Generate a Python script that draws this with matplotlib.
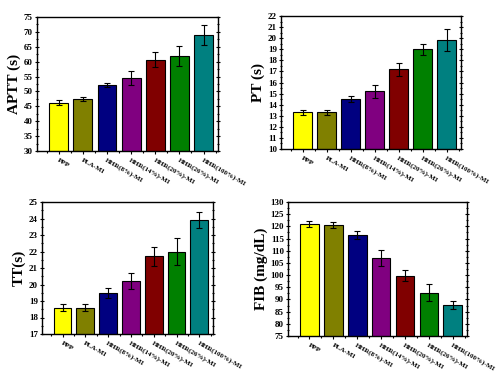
import numpy as np
import matplotlib.pyplot as plt
from matplotlib.ticker import MultipleLocator, AutoMinorLocator

plt.rcParams['font.family'] = ['Liberation Serif', 'DejaVu Serif']
plt.rcParams['font.weight'] = 'bold'

labels = ['PPP', 'PLA-MI', 'HHR(8%)-MI', 'HHR(14%)-MI', 'HHR(20%)-MI',
          'HHR(26%)-MI', 'HHR(100%)-MI']
colors = ['#ffff00', '#808000', '#000080', '#800080', '#800000', '#008000', '#008080']

aptt = [46.2, 47.5, 52.2, 54.5, 60.7, 62.0, 69.0]
aptt_err = [0.8, 0.8, 0.8, 2.5, 2.5, 3.3, 3.3]
pt = [13.3, 13.3, 14.5, 15.2, 17.2, 19.0, 19.8]
pt_err = [0.2, 0.2, 0.3, 0.6, 0.6, 0.5, 1.0]
tt = [18.6, 18.6, 19.5, 20.2, 21.7, 22.0, 23.9]
tt_err = [0.2, 0.2, 0.3, 0.5, 0.6, 0.8, 0.5]
fib = [121.0, 120.5, 116.5, 107.0, 99.7, 92.7, 87.7]
fib_err = [1.2, 1.3, 1.5, 3.2, 2.2, 3.5, 1.5]

panels = [
    # values, errors, ylabel, ylim, step, rect (left, top, width, height) in px
    (aptt, aptt_err, 'APTT (s)', (30, 75), 5, (37, 17, 181, 134)),
    (pt, pt_err, 'PT (s)', (10, 22), 1, (281, 16, 180, 133)),
    (tt, tt_err, 'TT(s)', (17, 25), 1, (42, 202, 171, 132)),
    (fib, fib_err, 'FIB (mg/dL)', (75, 130), 5, (288, 202, 179, 134)),
]

W, H = 500, 375
fig = plt.figure(figsize=(5, 3.75), dpi=100)
x = np.arange(1, len(labels) + 1)

for vals, errs, ylab, ylim, step, (l, t, w, h) in panels:
    ax = fig.add_axes([l / W, 1 - (t + h) / H, w / W, h / H])
    ax.bar(x, vals, width=0.78, color=colors, edgecolor='black', linewidth=0.8,
           yerr=errs, capsize=2, error_kw=dict(elinewidth=0.8, capthick=0.8, ecolor='black'))
    ax.set_xlim(0.1, 7.6)
    ax.set_ylim(*ylim)
    ax.yaxis.set_major_locator(MultipleLocator(step))
    ax.yaxis.set_minor_locator(AutoMinorLocator(2))
    ax.set_xticks(x)
    ax.set_xticks(np.arange(0.5, 7.6, 1.0), minor=True)
    ax.set_xticklabels(labels, rotation=-30, ha='left', rotation_mode='anchor',
                       fontsize=5, fontweight='bold')
    ax.tick_params(axis='y', labelsize=6.5, direction='inout', right=True, which='both',
                   length=3, width=0.8, pad=1.5)
    ax.tick_params(axis='y', which='minor', length=2)
    ax.tick_params(axis='x', which='both', direction='out', length=2.5, width=0.8, pad=2)
    ax.tick_params(axis='x', which='minor', length=1.5)
    for lb in ax.get_yticklabels():
        lb.set_fontweight('bold')
    ax.set_ylabel(ylab, fontsize=11, fontweight='bold', labelpad=2)
    for s in ax.spines.values():
        s.set_linewidth(1.0)

plt.savefig('out.png', dpi=100)
